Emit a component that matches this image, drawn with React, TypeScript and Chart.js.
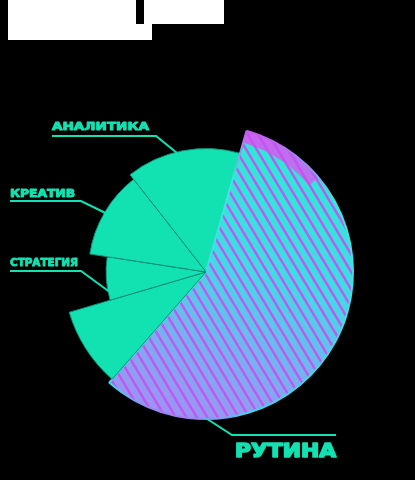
import { useEffect, useRef } from "react"
import { Chart, registerables } from "chart.js"

Chart.register(...registerables)

// slices clockwise from the top-left edge of "Аналитика"
const categories = ["АНАЛИТИКА", "РУТИНА", "", "СТРАТЕГИЯ", "КРЕАТИВ"]
const shares = [15, 57, 9, 7, 12] // % of the circle -> slice angle
const depth = [84, 100, 97, 68, 80] // -> slice radius
const scaleMax = 100

const W = 415
const H = 480
const CX = 206
const CY = 272
const R = 147

const GREEN = "#12e2b2"
const GREEN_EDGE = "#0c8f74"

// where each caption sits and which point of its slice the leader hits
const captions = [
  { index: 0, x: 52, base: 130, w: 97, size: 11, lineY: 136, joint: 156, end: 52, frac: 0.45 },
  { index: 4, x: 10, base: 197, w: 65, size: 11, lineY: 201, joint: 81, end: 10, frac: 0.5 },
  { index: 3, x: 10, base: 266, w: 68, size: 11, lineY: 271, joint: 81, end: 10, frac: 0.2 },
  { index: 1, x: 235, base: 457, w: 101, size: 19, lineY: 435, joint: 232, end: 336, frac: 0.8 },
]

function routineFill(ctx: CanvasRenderingContext2D) {
  const c = document.createElement("canvas")
  c.width = W
  c.height = H
  const g = c.getContext("2d")!
  const lin = g.createLinearGradient(290, 150, 200, 420)
  lin.addColorStop(0, "#2ee8d6")
  lin.addColorStop(0.45, "#45d8e6")
  lin.addColorStop(0.75, "#78b0f0")
  lin.addColorStop(1, "#9c94f4")
  g.fillStyle = lin
  g.fillRect(0, 0, W, H)

  // magenta rim at the top
  const band = g.createLinearGradient(240, 128, 335, 200)
  band.addColorStop(0, "rgba(214,90,242,0.95)")
  band.addColorStop(0.75, "rgba(214,90,242,0.8)")
  band.addColorStop(1, "rgba(214,90,242,0)")
  g.strokeStyle = band
  g.lineWidth = 13
  g.beginPath()
  g.arc(CX, CY, R - 6, (-82 * Math.PI) / 180, (-40 * Math.PI) / 180)
  g.stroke()

  // hatching
  g.strokeStyle = "rgba(196,82,240,0.95)"
  g.lineWidth = 2.4
  const slope = 0.6
  for (let x = -400; x < W + 50; x += 10.5) {
    g.beginPath()
    g.moveTo(x, 0)
    g.lineTo(x + H * slope, H)
    g.stroke()
  }
  return ctx.createPattern(c, "no-repeat")!
}

const captionPlugin = {
  id: "captions",
  afterDatasetsDraw(chart: Chart) {
    const ctx = chart.ctx
    const arcs = chart.getDatasetMeta(0).data as any[]
    ctx.save()
    ctx.strokeStyle = GREEN
    ctx.fillStyle = GREEN
    captions.forEach((c) => {
      const a = arcs[c.index].getProps(["x", "y", "startAngle", "endAngle", "outerRadius"], true)
      const ang = a.startAngle + (a.endAngle - a.startAngle) * c.frac
      const px = a.x + Math.cos(ang) * (a.outerRadius - 1)
      const py = a.y + Math.sin(ang) * (a.outerRadius - 1)
      ctx.lineWidth = 2
      ctx.beginPath()
      ctx.moveTo(px, py)
      ctx.lineTo(c.joint, c.lineY)
      ctx.lineTo(c.end, c.lineY)
      ctx.stroke()

      const text = categories[c.index]
      ctx.font = `bold ${c.size}px "DejaVu Sans"`
      const m = ctx.measureText(text).width
      ctx.save()
      ctx.translate(c.x, c.base)
      ctx.scale(c.w / m, 1)
      ctx.textBaseline = "alphabetic"
      ctx.lineWidth = c.size > 14 ? 1.6 : 0.9
      ctx.lineJoin = "round"
      ctx.strokeText(text, 0, 0)
      ctx.fillText(text, 0, 0)
      ctx.restore()
    })
    ctx.restore()
  },
}

function SkillPie() {
  const chartRef = useRef<HTMLCanvasElement>(null)
  const chartInstance = useRef<Chart | null>(null)

  useEffect(() => {
    if (!chartRef.current) return
    if (chartInstance.current) chartInstance.current.destroy()
    const ctx = chartRef.current.getContext("2d")
    if (!ctx) return

    const pattern = routineFill(ctx)
    const rim = ctx.createLinearGradient(240, 125, 180, 420)
    rim.addColorStop(0, "#d64cf2")
    rim.addColorStop(0.18, "#3fe6df")
    rim.addColorStop(0.93, "#3fd6f0")
    rim.addColorStop(1, "#b070f0")

    chartInstance.current = new Chart(ctx, {
      type: "polarArea",
      data: {
        labels: categories,
        datasets: [
          {
            data: depth,
            backgroundColor: categories.map((_, i) => (i === 1 ? pattern : GREEN)) as any,
            borderColor: categories.map((_, i) => (i === 1 ? rim : GREEN_EDGE)) as any,
            borderWidth: categories.map((_, i) => (i === 1 ? 2 : 1)),
            angle: (c: any) => shares[c.dataIndex] * 3.6,
          } as any,
        ],
      },
      options: {
        responsive: false,
        animation: false,
        layout: { padding: { left: CX - R, right: W - CX - R, top: CY - R, bottom: H - CY - R } },
        scales: {
          r: {
            min: 0,
            max: scaleMax,
            startAngle: -38,
            ticks: { display: false },
            grid: { display: false },
            angleLines: { display: false },
            pointLabels: { display: false },
          },
        },
        plugins: {
          legend: { display: false },
          tooltip: { enabled: false },
        },
      },
      plugins: [captionPlugin],
    })

    return () => {
      if (chartInstance.current) {
        chartInstance.current.destroy()
        chartInstance.current = null
      }
    }
  }, [])

  return <canvas ref={chartRef} width={W} height={H} style={{ position: "absolute", left: 0, top: 0 }} />
}

export default function App() {
  const block = (l: number, t: number, w: number, h: number) => (
    <div style={{ position: "absolute", left: l, top: t, width: w, height: h, background: "#fff" }} />
  )
  return (
    <div style={{ position: "absolute", left: 0, top: 0, width: W, height: H, background: "#000", overflow: "hidden" }}>
      {block(8, 0, 128, 40)}
      {block(136, 24, 16, 16)}
      {block(144, 0, 80, 24)}
      <SkillPie />
    </div>
  )
}
